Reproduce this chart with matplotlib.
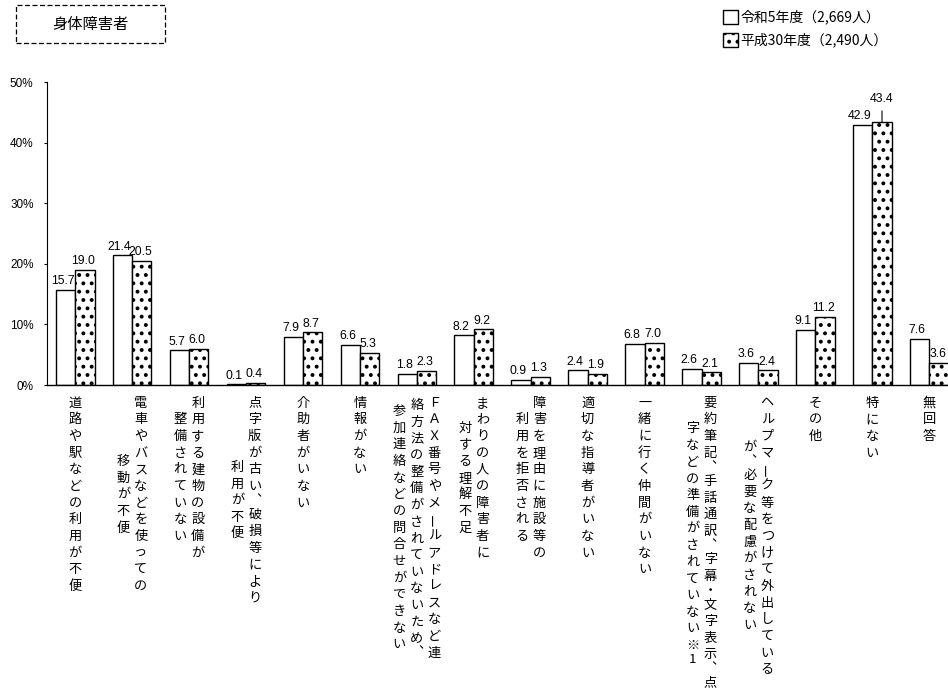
import numpy as np
import matplotlib
matplotlib.use('Agg')
import matplotlib.pyplot as plt
from matplotlib.patches import Rectangle

plt.rcParams['font.family'] = ['Noto Sans CJK JP', 'DejaVu Sans']
plt.rcParams['hatch.linewidth'] = 1.6

title = '身体障害者'
groups = ['令和5年度（2,669人）', '平成30年度（2,490人）']

# columns of each vertical label, right column first
labels = [
    ['道路や駅などの利用が不便'],
    ['電車やバスなどを使っての', '移動が不便'],
    ['利用する建物の設備が', '整備されていない'],
    ['点字版が古い、破損等により', '利用が不便'],
    ['介助者がいない'],
    ['情報がない'],
    ['ＦＡＸ番号やメールアドレスなど連', '絡方法の整備がされていないため、', '参加連絡などの問合せができない'],
    ['まわりの人の障害者に', '対する理解不足'],
    ['障害を理由に施設等の', '利用を拒否される'],
    ['適切な指導者がいない'],
    ['一緒に行く仲間がいない'],
    ['要約筆記、手話通訳、字幕・文字表示、点', '字などの準備がされていない※1'],
    ['ヘルプマーク等をつけて外出している', 'が、必要な配慮がされない'],
    ['その他'],
    ['特にない'],
    ['無回答'],
]

r5  = [15.7, 21.4, 5.7, 0.1, 7.9, 6.6, 1.8, 8.2, 0.9, 2.4, 6.8, 2.6, 3.6, 9.1, 42.9, 7.6]
h30 = [19.0, 20.5, 6.0, 0.4, 8.7, 5.3, 2.3, 9.2, 1.3, 1.9, 7.0, 2.1, 2.4, 11.2, 43.4, 3.6]

yticks = [0, 10, 20, 30, 40, 50]

numfont = 'Liberation Sans'

fig = plt.figure(figsize=(9.48, 6.93), dpi=100)
ax = fig.add_axes([0.0493, 0.4444, 0.961, 0.4372])

x = np.arange(len(labels))
w = 0.339
b1 = ax.bar(x - w/2, r5, w, color='white', edgecolor='black', lw=1.0, label=groups[0])
b2 = ax.bar(x + w/2, h30, w, color='white', edgecolor='black', lw=1.0, hatch='..', label=groups[1])

ax.set_xlim(-0.5, len(labels) - 0.5)
ax.set_ylim(0, 50)
ax.set_yticks(yticks)
ax.set_yticklabels(['%d%%' % v for v in yticks], fontfamily=numfont, fontsize=8.5)
ax.tick_params(axis='y', direction='out', length=2.5, width=0.8, pad=7)
ax.set_xticks([])
for s in ['top', 'right']:
    ax.spines[s].set_visible(False)
ax.spines['left'].set_linewidth(0.8)
ax.spines['bottom'].set_linewidth(1.0)

# value labels
for i in range(len(labels)):
    ax.annotate('%.1f' % r5[i], xy=(x[i] - w/2, r5[i]), xytext=(-2, 2), textcoords='offset points',
                ha='center', va='bottom', fontsize=8.8, fontfamily=numfont)
    if h30[i] > 40:
        ax.annotate('%.1f' % h30[i], xy=(x[i] + w/2, h30[i]), xytext=(0, 12), textcoords='offset points',
                    ha='center', va='bottom', fontsize=8.8, fontfamily=numfont,
                    arrowprops=dict(arrowstyle='-', lw=0.8, shrinkA=2, shrinkB=0))
    else:
        ax.annotate('%.1f' % h30[i], xy=(x[i] + w/2, h30[i]), xytext=(-1, 2), textcoords='offset points',
                    ha='center', va='bottom', fontsize=8.8, fontfamily=numfont)

# vertical category labels, one character at a time
pitch = 12.0   # pt per character
colgap = 12.6  # pt between columns
top = 13.0     # pt from axis to centre of first character
narrow = {'、': 0.7, '・': 0.7, '1': 0.7}
vert = {'、': '︑'}

def adv(c):
    return narrow.get(c, 1.0)

for i, cols in enumerate(labels):
    lens = [sum(adv(c) for c in col) for col in cols]
    lmax = max(lens)
    n = len(cols)
    for j, col in enumerate(cols):
        dx = ((n - 1) / 2 - j) * colgap
        y = top - pitch / 2 + (lmax - lens[j]) / 2 * pitch
        for c in col:
            a = adv(c)
            yc = y + a * pitch / 2
            ax.annotate(vert.get(c, c), xy=(x[i], 0), xytext=(dx, -yc), textcoords='offset points',
                        ha='center', va='center', fontsize=9.5,
                        rotation=90 if c == 'ー' else 0, annotation_clip=False)
            y += a * pitch

# title box
fig.patches.append(Rectangle((0.0166, 0.9375), 0.1575, 0.0553, transform=fig.transFigure,
                             fill=False, ec='black', lw=0.9, ls=(0, (4, 2))))
fig.text(0.0949, 1 - 25/693, title, ha='center', va='center', fontsize=11)

fig.legend(handles=[b1, b2], loc='upper left', bbox_to_anchor=(0.7624, 0.9856), frameon=False,
           fontsize=10, handlelength=1.1, handleheight=1.1, handletextpad=0.15,
           labelspacing=0.6, borderpad=0, borderaxespad=0)

fig.savefig('out.png', dpi=100)
